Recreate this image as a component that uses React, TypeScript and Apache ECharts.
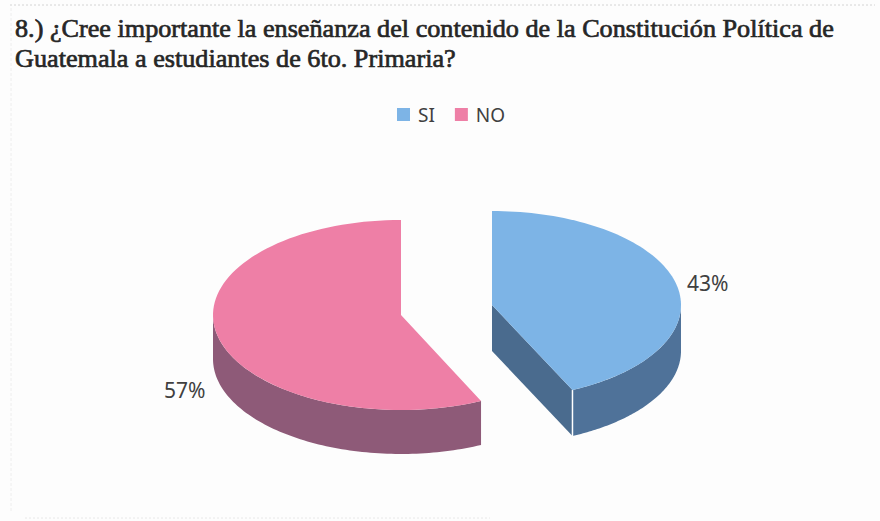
import React, { useEffect, useRef } from "react";
import * as echarts from "echarts";

const titleText = "8.) ¿Cree importante la enseñanza del contenido de la Constitución Política de\nGuatemala a estudiantes de 6to. Primaria?";
const categories = ["SI", "NO"];
const values = [43, 57];
const percentLabels = ["43%", "57%"];

const topColors = ["#7db4e6", "#ee7fa6"];
const wallColors = ["#4f7299", "#8e5a78"];
const cutColor = "#4a6b8e";
const LABEL_FONT = '21px "Noto Sans"';

const layouts = [
  { cx: 492, cy: 305, rx: 189, ry: 94, depth: 46, labelX: 687, labelY: 283 },
  { cx: 401, cy: 315, rx: 188, ry: 95, depth: 44, labelX: 164, labelY: 390 },
];

const total = values.reduce((a, b) => a + b, 0);

function sweep(i: number, value: number) {
  const before = values.slice(0, i).reduce((a, b) => a + b, 0);
  const start = (before / total) * Math.PI * 2;
  return [start, start + (value / total) * Math.PI * 2];
}

function pt(l: any, a: number, dy = 0) {
  return [l.cx + l.rx * Math.sin(a), l.cy - l.ry * Math.cos(a) + dy];
}

function arc(l: any, a0: number, a1: number, dy = 0) {
  const pts: number[][] = [];
  const steps = 90;
  for (let k = 0; k <= steps; k++) pts.push(pt(l, a0 + ((a1 - a0) * k) / steps, dy));
  return pts;
}

function renderSlice(i: number) {
  return (_params: any, api: any) => {
    const l = layouts[i];
    const [a0, a1] = sweep(i, api.value(0));
    const children: any[] = [];
    const w0 = Math.max(a0, Math.PI / 2);
    const w1 = Math.min(a1, (Math.PI * 3) / 2);
    if (w1 > w0) {
      const upper = arc(l, w0, w1);
      const lower = arc(l, w1, w0, l.depth);
      children.push({
        type: "polygon",
        shape: { points: [...upper, ...lower] },
        style: { fill: wallColors[i] },
      });
    }
    if (i === 0) {
      const e = pt(l, a1);
      children.push({
        type: "polygon",
        shape: {
          points: [[l.cx, l.cy], e, [e[0], e[1] + l.depth], [l.cx, l.cy + l.depth]],
        },
        style: { fill: cutColor },
      });
      children.push({
        type: "line",
        shape: { x1: e[0], y1: e[1], x2: e[0], y2: e[1] + l.depth },
        style: { stroke: "#ffffff", lineWidth: 1.5 },
      });
    }
    children.push({
      type: "polygon",
      shape: { points: [[l.cx, l.cy], ...arc(l, a0, a1)] },
      style: { fill: topColors[i] },
    });
    children.push({
      type: "text",
      style: {
        text: percentLabels[i],
        x: l.labelX,
        y: l.labelY,
        fill: "#404040",
        font: LABEL_FONT,
        verticalAlign: "middle",
      },
    });
    return { type: "group", children };
  };
}

export default function App() {
  const ref = useRef<HTMLDivElement>(null);
  useEffect(() => {
    document.body.style.margin = "0";
    const chart = echarts.init(ref.current!, undefined, { renderer: "svg" });
    chart.setOption({
      animation: false,
      backgroundColor: "#fdfdfd",
      title: {
        text: titleText,
        left: 10,
        top: 8,
        textStyle: {
          fontFamily: '"Liberation Serif"',
          fontSize: 26.2,
          fontWeight: "normal",
          color: "#262626",
          lineHeight: 30,
          textBorderColor: "#262626",
          textBorderWidth: 0.7,
        },
      },
      legend: {
        data: categories,
        left: 392,
        top: 100,
        itemWidth: 13,
        itemHeight: 13,
        itemGap: 20,
        icon: "rect",
        textStyle: { fontFamily: '"Noto Sans"', fontSize: 19, color: "#404040", padding: [0, 0, 0, 3] },
      },
      series: categories.map((name, i) => ({
        type: "custom",
        name,
        coordinateSystem: "none",
        data: [[values[i]]],
        itemStyle: { color: topColors[i] },
        renderItem: renderSlice(i),
      })),
      graphic: [
        {
          type: "line",
          shape: { x1: 10, y1: 5, x2: 875, y2: 5 },
          style: { stroke: "#d4d4d4", lineWidth: 1, lineDash: [2, 2] },
        },
        {
          type: "line",
          shape: { x1: 11, y1: 8, x2: 11, y2: 513 },
          style: { stroke: "#eeeeee", lineWidth: 1, lineDash: [3, 2] },
        },
        {
          type: "line",
          shape: { x1: 25, y1: 518, x2: 490, y2: 518 },
          style: { stroke: "#e8e8e8", lineWidth: 1, lineDash: [2, 2] },
        },
      ],
    });
    return () => chart.dispose();
  }, []);
  return <div ref={ref} style={{ width: 880, height: 521 }} />;
}
